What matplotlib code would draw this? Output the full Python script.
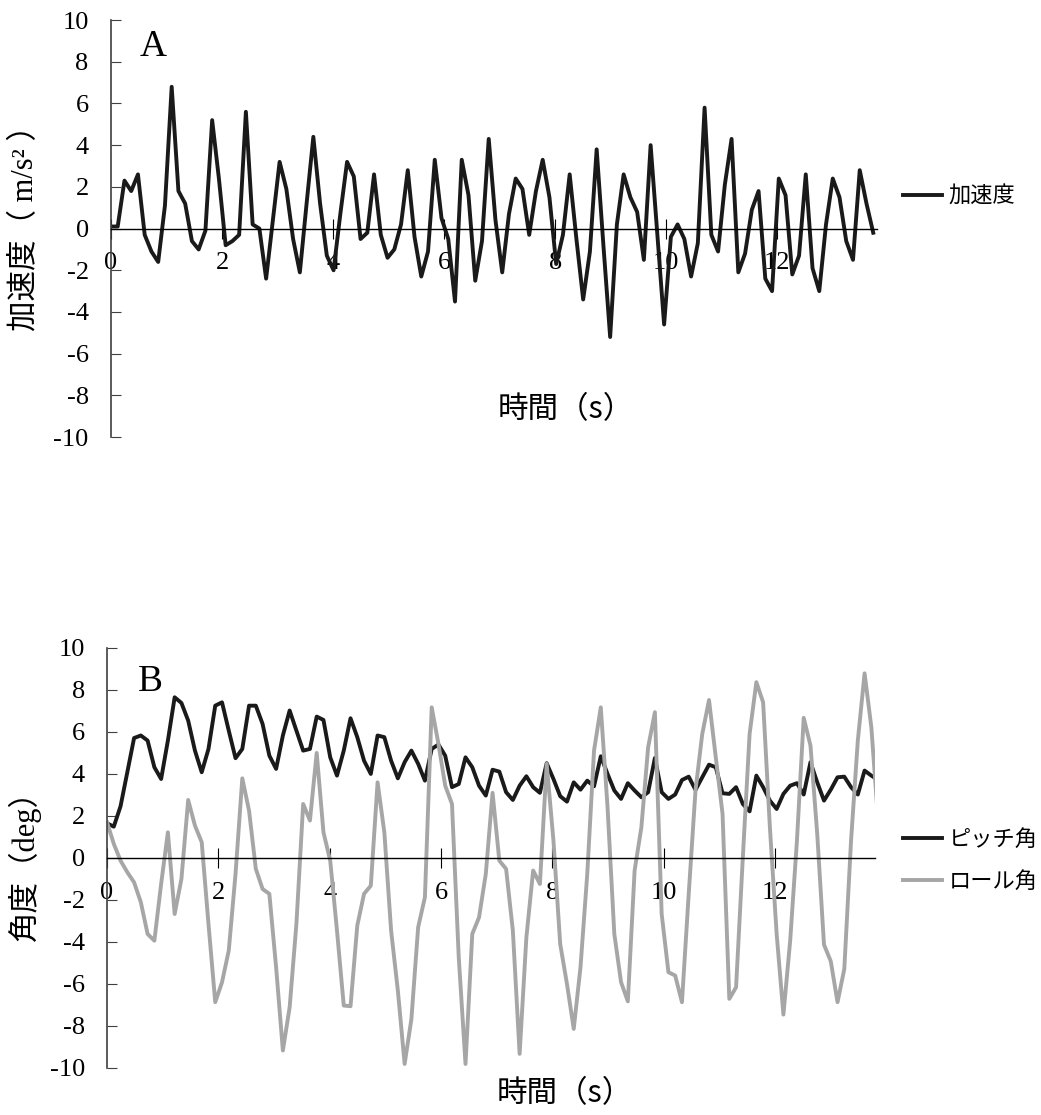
import numpy as np
import matplotlib
matplotlib.use("Agg")
import matplotlib.pyplot as plt

plt.rcParams['font.family'] = ['Liberation Serif', 'Noto Sans CJK JP', 'DejaVu Sans']
plt.rcParams['axes.unicode_minus'] = False

# サンプリング間隔 (s)
dt = 0.1215

# A: 加速度 (m/s^2)
acc = [0.1, 0.1, 2.3, 1.8, 2.6, -0.3, -1.1, -1.6, 1.1, 6.8,
       1.8, 1.2, -0.6, -1.0, -0.1, 5.2, 2.4, -0.8, -0.6, -0.3,
       5.6, 0.2, 0.0, -2.4, 0.4, 3.2, 1.9, -0.5, -2.1, 1.2,
       4.4, 1.2, -1.3, -2.0, 0.7, 3.2, 2.5, -0.5, -0.2, 2.6,
       -0.3, -1.4, -1.0, 0.2, 2.8, -0.4, -2.3, -1.1, 3.3, 0.5,
       -0.5, -3.5, 3.3, 1.6, -2.5, -0.6, 4.3, 0.4, -2.1, 0.7,
       2.4, 1.9, -0.3, 1.8, 3.3, 1.5, -1.7, -0.3, 2.6, -0.5,
       -3.4, -1.1, 3.8, -0.8, -5.2, 0.2, 2.6, 1.5, 0.8, -1.5,
       4.0, -0.3, -4.6, -0.4, 0.2, -0.5, -2.3, -0.7, 5.8, -0.3,
       -1.1, 2.1, 4.3, -2.1, -1.2, 0.9, 1.8, -2.4, -3.0, 2.4,
       1.6, -2.2, -1.3, 2.6, -1.9, -3.0, 0.2, 2.4, 1.5, -0.6,
       -1.5, 2.8, 1.2, -0.2]

# B: ピッチ角 / ロール角 (deg)
pitch = [1.65, 1.49, 2.46, 4.08, 5.71, 5.83, 5.59, 4.32, 3.76, 5.59,
         7.65, 7.38, 6.54, 5.11, 4.08, 5.19, 7.25, 7.41, 6.06, 4.75,
         5.19, 7.25, 7.25, 6.38, 4.87, 4.24, 5.83, 7.02, 6.06, 5.11,
         5.19, 6.73, 6.57, 4.79, 3.92, 5.11, 6.65, 5.75, 4.63, 4.0,
         5.83, 5.75, 4.63, 3.79, 4.56, 5.11, 4.48, 3.68, 5.19, 5.4,
         4.87, 3.37, 3.52, 4.79, 4.32, 3.44, 2.97, 4.2, 4.11, 3.13,
         2.76, 3.44, 3.89, 3.37, 3.1, 4.51, 3.76, 2.94, 2.68, 3.6,
         3.25, 3.68, 3.41, 4.84, 4.0, 3.21, 2.81, 3.56, 3.21, 2.89,
         3.13, 4.76, 3.13, 2.81, 3.02, 3.71, 3.87, 3.24, 3.84, 4.44,
         4.32, 3.08, 3.05, 3.37, 2.57, 2.22, 3.92, 3.37, 2.73, 2.33,
         3.05, 3.44, 3.56, 3.02, 4.56, 3.6, 2.73, 3.25, 3.84, 3.87,
         3.37, 3.02, 4.16, 3.92, 3.71]

roll = [1.7, 0.67, -0.13, -0.68, -1.16, -2.11, -3.62, -3.94, -1.24, 1.22,
        -2.67, -1.0, 2.76, 1.54, 0.75, -3.14, -6.87, -5.92, -4.41, -0.76,
        3.79, 2.25, -0.52, -1.48, -1.71, -5.21, -9.17, -7.11, -3.14, 2.57,
        1.78, 5.0, 1.22, -0.13, -3.46, -7.03, -7.06, -3.22, -1.71, -1.32,
        3.6, 1.22, -3.46, -6.32, -9.81, -7.67, -3.3, -1.87, 7.17, 5.43,
        3.44, 2.57, -4.73, -9.81, -3.62, -2.83, -0.76, 3.1, -0.13, -0.52,
        -3.46, -9.33, -3.78, -0.6, -1.24, 4.48, 0.83, -4.1, -6.0, -8.14,
        -5.2, -0.76, 5.11, 7.17, 2.41, -3.62, -5.92, -6.83, -0.6, 1.46,
        5.27, 6.94, -2.67, -5.44, -5.6, -6.87, -1.71, 3.21, 5.9, 7.52,
        4.79, 2.1, -6.71, -6.16, 0.03, 5.9, 8.37, 7.41, 1.46, -3.62,
        -7.46, -3.94, 0.83, 6.67, 5.35, 1.14, -4.13, -4.92, -6.87, -5.29,
        0.83, 5.59, 8.79, 6.22, 1.78]

t_acc = np.arange(len(acc)) * dt
t_ang = np.arange(len(roll)) * dt

xticks = [0, 2, 4, 6, 8, 10, 12]
yticks = [-10, -8, -6, -4, -2, 0, 2, 4, 6, 8, 10]

jp = ['Noto Sans CJK JP', 'DejaVu Sans']


def style_axes(ax):
    ax.set_xlim(0, 13.8)
    ax.set_ylim(-10, 10)
    ax.spines['top'].set_visible(False)
    ax.spines['right'].set_visible(False)
    ax.spines['bottom'].set_position(('data', 0))
    ax.spines['bottom'].set_linewidth(1.0)
    ax.spines['left'].set_linewidth(1.2)
    ax.spines['left'].set_color('#404040')
    ax.set_xticks(xticks)
    ax.set_yticks(yticks)
    ax.tick_params(axis='y', direction='in', length=7, pad=16, labelsize=19,
                   color='#404040')
    ax.tick_params(axis='x', direction='inout', length=14, pad=10, labelsize=19)


fig = plt.figure(figsize=(10.41, 11.15), dpi=100)

# パネル A
axA = fig.add_axes([0.1066, 0.608, 0.736, 0.374])
style_axes(axA)
axA.plot(t_acc, acc, color='#1a1a1a', lw=2.8, label='加速度')
axA.text(0.055, 0.935, 'A', transform=axA.transAxes, fontsize=27,
         ha='center', va='center')
axA.set_ylabel('加速度（ m/s² ）', fontsize=22)
axA.yaxis.label.set_va('center')
axA.yaxis.set_label_coords(-0.112, 0.52)
axA.set_xlabel('時間（s）', fontsize=22, family=jp)
axA.xaxis.label.set_va('center')
axA.xaxis.set_label_coords(0.593, 0.065)
axA.legend(loc='center left', bbox_to_anchor=(1.034, 0.578), frameon=False,
           handlelength=1.75, handletextpad=0.3, borderpad=0,
           borderaxespad=0, prop={'family': jp, 'size': 16})

# パネル B
axB = fig.add_axes([0.1028, 0.0422, 0.738, 0.3767])
style_axes(axB)
axB.plot(t_ang, pitch, color='#1a1a1a', lw=2.8, label='ピッチ角')
axB.plot(t_ang, roll, color='#a6a6a6', lw=2.8, label='ロール角')
axB.text(0.056, 0.92, 'B', transform=axB.transAxes, fontsize=27,
         ha='center', va='center')
axB.set_ylabel('角度（deg）', fontsize=22)
axB.yaxis.label.set_va('center')
axB.yaxis.set_label_coords(-0.107, 0.5)
axB.set_xlabel('時間（s）', fontsize=22, family=jp)
axB.xaxis.label.set_va('center')
axB.xaxis.set_label_coords(0.596, -0.06)
axB.legend(loc='center left', bbox_to_anchor=(1.036, 0.495), frameon=False,
           handlelength=1.75, handletextpad=0.3, borderpad=0, labelspacing=0.85,
           borderaxespad=0, prop={'family': jp, 'size': 16})

fig.savefig('out.png', dpi=100)
